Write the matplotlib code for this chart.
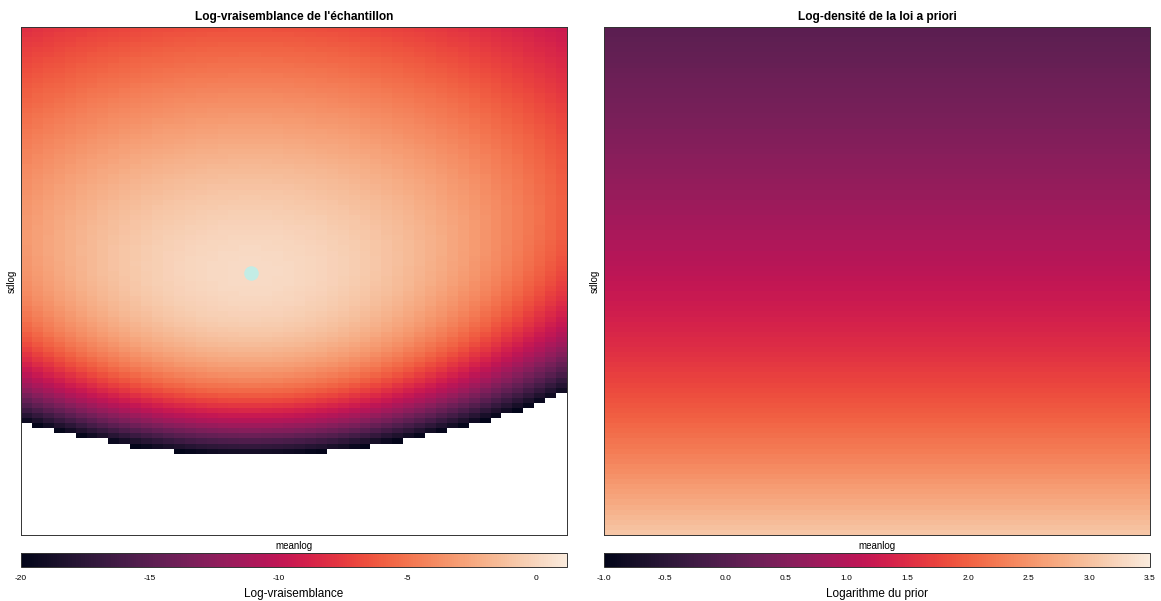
import numpy as np
import matplotlib.pyplot as plt
import seaborn as sns
from math import lgamma

plt.rcParams["font.family"] = ["Liberation Sans", "DejaVu Sans"]
plt.rcParams["axes.unicode_minus"] = False

# résumé de l'échantillon (log des observations)
n_obs = 44
mean_log = 1.551
sd_log = 0.051

# loi a priori : plate sur meanlog, inverse-gamma sur sdlog^2
prior_shape = 0.65
prior_rate = 8.5e-5

# grille des paramètres
meanlog = np.linspace(1.53, 1.58, 50)
sdlog = np.linspace(0.02, 0.08, 100)
mu, sig = np.meshgrid(meanlog, sdlog)

# bornes des échelles de couleur
loglik_limits = (-20, 1.2)
prior_limits = (-1, 3.5)

loglik = (-n_obs * mean_log - n_obs / 2 * np.log(2 * np.pi) - n_obs * np.log(sig)
          - n_obs * (sd_log ** 2 + (mean_log - mu) ** 2) / (2 * sig ** 2))
logprior = (np.log(2) + prior_shape * np.log(prior_rate) - lgamma(prior_shape)
            - (2 * prior_shape + 1) * np.log(sig) - prior_rate / sig ** 2)

cmap = sns.color_palette("rocket", as_cmap=True).copy()
cmap.set_bad("white")

fig = plt.figure(figsize=(11.61, 6.01), dpi=100)

W, H = 1161, 601
def box(x0, y0, x1, y1):
    return [x0 / W, 1 - y1 / H, (x1 - x0) / W, (y1 - y0) / H]

panels = [
    (box(21, 27, 567, 535), box(21, 553, 567, 567),
     np.ma.masked_less(loglik, loglik_limits[0]), loglik_limits, [-20, -15, -10, -5, 0],
     "Log-vraisemblance de l'échantillon", "Log-vraisemblance"),
    (box(604, 27, 1150, 535), box(604, 553, 1150, 567),
     logprior, prior_limits, np.arange(-1, 3.51, 0.5),
     "Log-densité de la loi a priori", "Logarithme du prior"),
]

for i, (pos, cpos, z, lims, ticks, title, clabel) in enumerate(panels):
    ax = fig.add_axes(pos)
    m = ax.pcolormesh(meanlog, sdlog, z, cmap=cmap, vmin=lims[0], vmax=lims[1],
                      shading="nearest", rasterized=True)
    if i == 0:
        ax.scatter([mean_log], [sd_log], s=110, color="#c3ece5", zorder=3,
                   linewidths=0)
    ax.set_xticks([])
    ax.set_yticks([])
    ax.set_title(title, fontsize=8.6, fontweight="bold", pad=5)
    ax.set_xlabel("meanlog", fontsize=7, labelpad=4)
    ax.set_ylabel("sdlog", fontsize=7, labelpad=3)
    for sp in ax.spines.values():
        sp.set_linewidth(0.7)
        sp.set_color("#333333")

    cax = fig.add_axes(cpos)
    cb = fig.colorbar(m, cax=cax, orientation="horizontal")
    cb.set_ticks(ticks)
    if i == 1:
        cb.set_ticklabels([f"{t:.1f}" for t in ticks])
    cb.ax.tick_params(length=0, labelsize=6, pad=6)
    cb.outline.set_linewidth(0.7)
    cb.outline.set_edgecolor("#333333")
    cb.set_label(clabel, fontsize=8.5, labelpad=4)

fig.savefig("out.png", dpi=100)
